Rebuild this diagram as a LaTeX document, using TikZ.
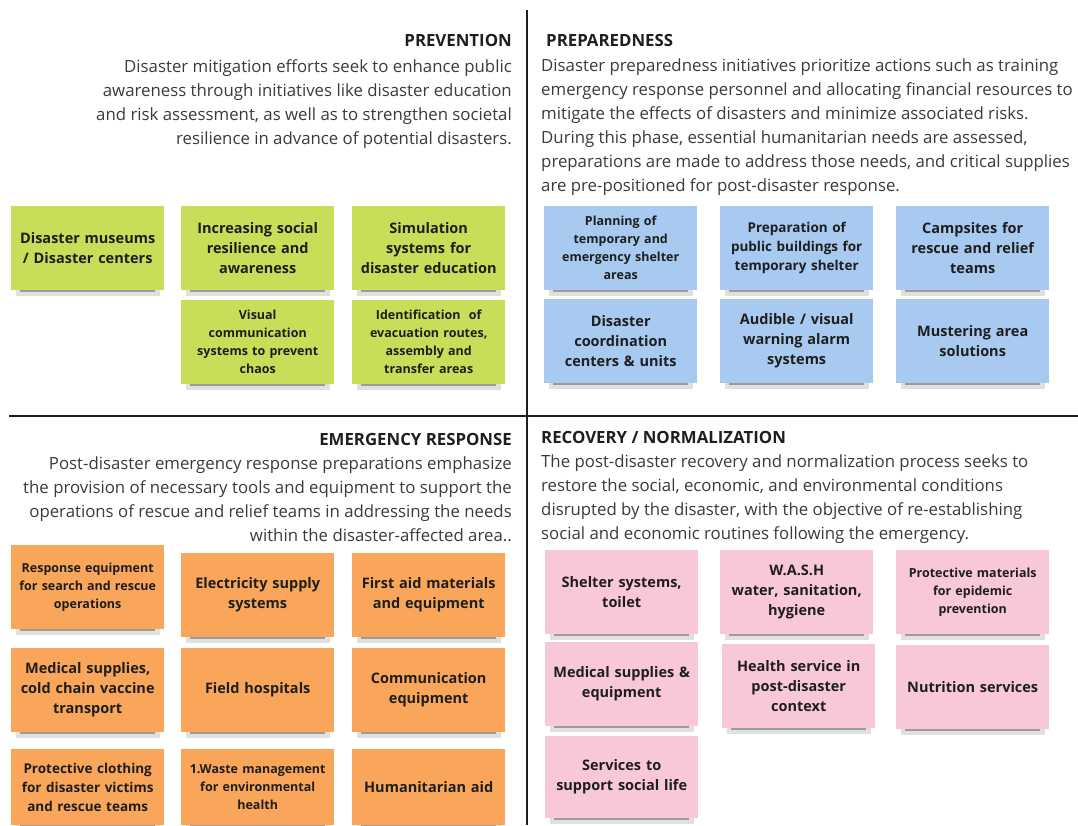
\documentclass[tikz,border=0pt]{standalone}
\usepackage{fontspec}
\setmainfont{Open Sans}
\usetikzlibrary{shadows}

\definecolor{notegreen}{RGB}{200,222,88}
\definecolor{noteblue}{RGB}{168,202,240}
\definecolor{noteorange}{RGB}{249,166,90}
\definecolor{notepink}{RGB}{248,200,216}
\definecolor{bodygray}{RGB}{58,58,58}
\definecolor{headgray}{RGB}{30,30,30}

\begin{document}
\begin{tikzpicture}[
  x=1pt,y=-1pt,
  divider/.style={line width=2.6pt,draw=headgray},
  head/.style={inner sep=0pt,text=headgray,font=\fontsize{16.8}{18}\selectfont\bfseries},
  body/.style={inner sep=0pt,text=bodygray,font=\fontsize{16.8}{24}\selectfont},
  note/.style={anchor=north west,inner sep=0pt,minimum width=153pt,minimum height=84pt,
    text width=146pt,align=center,text=headgray,
    general shadow={fill=black,opacity=.12,shadow scale=.94,shadow yshift=-9pt},
    general shadow={fill=black,opacity=.30,shadow scale=.88,shadow yshift=-8pt}},
  big/.style={font=\fontsize{14.5}{20}\selectfont\bfseries},
  mid/.style={font=\fontsize{13.5}{19}\selectfont\bfseries},
  small/.style={font=\fontsize{12.5}{18}\selectfont\bfseries},
]
  \useasboundingbox (0,0) rectangle (1078,825);
  \clip (0,0) rectangle (1078,825);

  % Quadrants
  \coordinate (vtop) at (527,10);
  \coordinate (vbot) at (527,825);
  \coordinate (hleft) at (9,416);
  \coordinate (hright) at (1078,416);
  \draw[divider] (vtop) -- (vbot);
  \draw[divider] (hleft) -- (hright);

  % Prevention
  \node[head,anchor=north east] (prevh) at (512,34) {PREVENTION};
  \node[body,anchor=north east,align=right] (prevb) at (512,59)
    {Disaster mitigation efforts seek to enhance public\\
     awareness through initiatives like disaster education\\
     and risk assessment, as well as to strengthen societal\\
     resilience in advance of potential disasters.};

  \node[note,big,fill=notegreen] (pv1) at (11,206) {Disaster museums\\/ Disaster centers};
  \node[note,big,fill=notegreen] (pv2) at (181,206) {Increasing social\\resilience and\\awareness};
  \node[note,big,fill=notegreen] (pv3) at (352,206) {Simulation\\systems for\\disaster education};
  \node[note,small,fill=notegreen] (pv4) at (181,300) {Visual\\communication\\systems to prevent\\chaos};
  \node[note,small,fill=notegreen] (pv5) at (352,300) {Identification~ of\\evacuation routes,\\assembly and\\transfer areas};

  % Preparedness
  \node[head,anchor=north west] (preph) at (546,34) {PREPAREDNESS};
  \node[body,anchor=north west,align=left] (prepb) at (541,59)
    {Disaster preparedness initiatives prioritize actions such as training\\
     emergency response personnel and allocating financial resources to\\
     mitigate the effects of disasters and minimize associated risks.\\
     During this phase, essential humanitarian needs are assessed,\\
     preparations are made to address those needs, and critical supplies\\
     are pre-positioned for post-disaster response.};

  \node[note,small,fill=noteblue] (pp1) at (544,206) {Planning of\\temporary and\\emergency shelter\\areas};
  \node[note,mid,fill=noteblue] (pp2) at (720,206) {Preparation of\\public buildings for\\temporary shelter};
  \node[note,big,fill=noteblue] (pp3) at (896,206) {Campsites for\\rescue and relief\\teams};
  \node[note,big,fill=noteblue] (pp4) at (544,299) {Disaster\\coordination\\centers \& units};
  \node[note,big,fill=noteblue] (pp5) at (720,299) {Audible / visual\\warning alarm\\systems};
  \node[note,big,fill=noteblue] (pp6) at (896,299) {Mustering area\\solutions};

  % Emergency response
  \node[head,anchor=north east] (emerh) at (512,433) {EMERGENCY RESPONSE};
  \node[body,anchor=north east,align=right] (emerb) at (512,457)
    {Post-disaster emergency response preparations emphasize\\
     the provision of necessary tools and equipment to support the\\
     operations of rescue and relief teams in addressing the needs\\
     within the disaster-affected area..};

  \node[note,small,fill=noteorange] (er1) at (11,545) {Response equipment\\for search and rescue\\operations};
  \node[note,big,fill=noteorange] (er2) at (181,553) {Electricity supply\\systems};
  \node[note,big,fill=noteorange] (er3) at (352,553) {First aid materials\\and equipment};
  \node[note,big,fill=noteorange] (er4) at (11,648) {Medical supplies,\\cold chain vaccine\\transport};
  \node[note,big,fill=noteorange] (er5) at (181,648) {Field hospitals};
  \node[note,big,fill=noteorange] (er6) at (352,648) {Communication\\equipment};
  \node[note,mid,fill=noteorange,minimum height=76pt] (er7) at (11,749) {Protective clothing\\for disaster victims\\and rescue teams};
  \node[note,small,fill=noteorange,minimum height=76pt] (er8) at (181,749) {1.Waste management\\for environmental\\health};
  \node[note,big,fill=noteorange,minimum height=76pt] (er9) at (352,749) {Humanitarian aid};

  % Recovery / normalization
  \node[head,anchor=north west] (recoh) at (541,431) {RECOVERY / NORMALIZATION};
  \node[body,anchor=north west,align=left] (recob) at (541,455)
    {The post-disaster recovery and normalization process seeks to\\
     restore the social, economic, and environmental conditions\\
     disrupted by the disaster, with the objective of re-establishing\\
     social and economic routines following the emergency.};

  \node[note,big,fill=notepink] (rc1) at (545,550) {Shelter systems,\\toilet};
  \node[note,big,fill=notepink] (rc2) at (720,550) {W.A.S.H\\water, sanitation,\\hygiene};
  \node[note,small,fill=notepink] (rc3) at (896,550) {Protective materials\\for epidemic\\prevention};
  \node[note,big,fill=notepink] (rc4) at (545,642) {Medical supplies \&\\equipment};
  \node[note,big,fill=notepink] (rc5) at (722,644) {Health service in\\post-disaster\\context};
  \node[note,big,fill=notepink] (rc6) at (896,645) {Nutrition services};
  \node[note,big,fill=notepink,minimum height=82pt] (rc7) at (545,736) {Services to\\support social life};
\end{tikzpicture}
\end{document}
